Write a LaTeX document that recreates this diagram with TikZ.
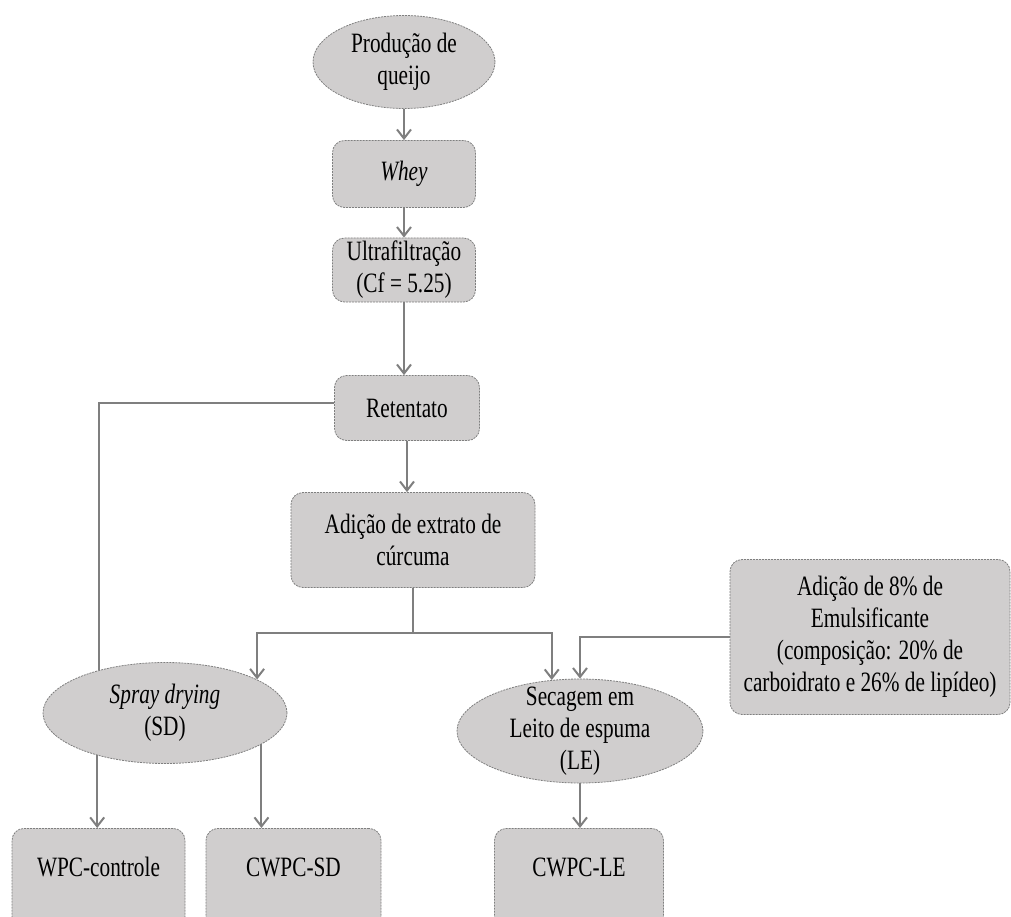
\documentclass[tikz,border=0pt]{standalone}
\usepackage{fontspec}
\setmainfont{Liberation Serif}[FakeStretch=0.76]
\usepackage{tikz}
\usetikzlibrary{shapes.geometric}
\usetikzlibrary{arrows.meta}
\definecolor{boxgray}{HTML}{D0CECE}
\definecolor{linegray}{HTML}{7F7F7F}
\tikzstyle{etapa} = [rectangle, rounded corners=12pt, inner sep=0pt, align=center, fill=boxgray, draw=linegray, line width=0.8pt, dash pattern=on 2pt off 1pt]
\tikzstyle{oval} = [ellipse, inner sep=0pt, align=center, fill=boxgray, draw=linegray, line width=0.8pt, dash pattern=on 2pt off 1pt]
\tikzstyle{produto} = [etapa, anchor=north, minimum height=100pt, text height=48pt, text depth=52pt]
\tikzstyle{seta} = [draw=linegray, line width=2pt]

\begin{document}
\begin{tikzpicture}[x=1pt, y=-1pt, font=\fontsize{28}{32}\selectfont, >={Straight Barb[length=9pt,width=14pt]}]
\useasboundingbox (0,0) rectangle (1011,917);
\clip (0,0) rectangle (1011,917);
\node (queijo) [oval, minimum width=182pt, minimum height=93pt] at (404,62) {Produção de\\queijo};
\node (whey) [etapa, minimum width=143pt, minimum height=67pt] at (404,174) {\textit{Whey}};
\node (ultra) [etapa, minimum width=143pt, minimum height=64pt] at (404,270) {Ultrafiltração\\(Cf = 5.25)};
\node (retentado) [etapa, minimum width=145pt, minimum height=65pt] at (407,408) {Retentato};
\node (curcuma) [etapa, minimum width=244pt, minimum height=95pt] at (413,540) {Adição de extrato de\\cúrcuma};
\node (emuls) [etapa, minimum width=280pt, minimum height=155pt] at (870,637) {Adição de 8\% de\\Emulsificante\\(composição: 20\% de\\carboidrato e 26\% de lipídeo)};
\node (sd) [oval, minimum width=244pt, minimum height=101pt] at (165,713) {\textit{Spray drying}\\(SD)};
\node (le) [oval, minimum width=246pt, minimum height=104pt, inner ysep=-9pt] at (580,731) {Secagem em\\Leito de espuma\\(LE)};
\node (wpc) [produto, minimum width=173pt] at (98.5,828) {WPC-controle};
\node (cwpcsd) [produto, minimum width=175pt] at (293.5,828) {CWPC-SD};
\node (cwpcle) [produto, minimum width=169pt] at (579,828) {CWPC-LE};

\draw [seta,->] (queijo) -- (whey);
\draw [seta,->] (whey) -- (ultra);
\draw [seta,->] (ultra.south) -- (ultra.south |- retentado.north);
\draw [seta,->] (retentado.south) -- (retentado.south |- curcuma.north);
\draw [seta] ([yshift=5pt]retentado.west) -| (sd.147);
\draw [seta,->] (curcuma.south) -- ++(0,45) coordinate (garfo) -| (sd.20);
\draw [seta,->] (garfo) -| (le.119);
\draw [seta,->] (emuls.west) -| (le.north);
\draw [seta,->] (sd.212) -- (sd.212 |- wpc.north);
\draw [seta,->] (sd.342) -- (sd.342 |- cwpcsd.north);
\draw [seta,->] (le.south) -- (le.south |- cwpcle.north);
\end{tikzpicture}
\end{document}
